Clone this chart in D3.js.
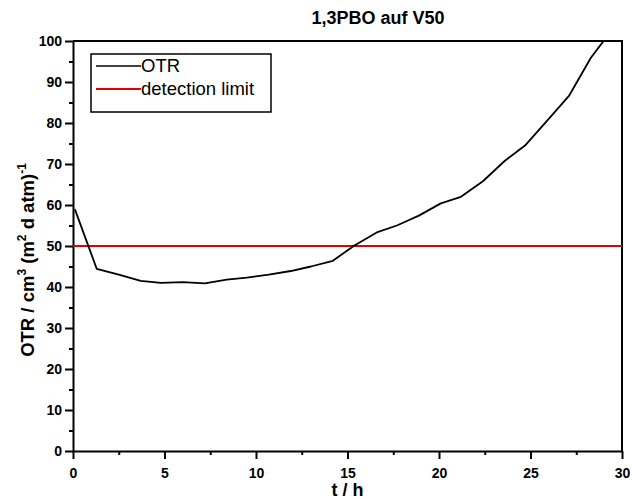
<!DOCTYPE html>
<html>
<head>
<meta charset="utf-8">
<script src="https://cdn.jsdelivr.net/npm/d3@7"></script>
<style>
  body { margin: 0; background: #fff; }
  svg { font-family: "Liberation Sans", Arial, sans-serif; }
</style>
</head>
<body>
<div id="chart"></div>
<script>
// OTR measurement (t in h, OTR in cm3/(m2 d atm))
const timeH = [0.1, 1.3, 2.5, 3.7, 4.8, 6.0, 7.2, 8.4, 9.5, 10.7, 11.9, 13.0, 14.2,
               15.4, 16.6, 17.7, 18.9, 20.1, 21.2, 22.4, 23.6, 24.7, 25.9, 27.1, 28.3, 29.4];
const otr = [59.0, 44.4, 43.0, 41.5, 41.0, 41.2, 40.9, 41.8, 42.3, 43.0, 43.9, 45.0, 46.4,
             50.2, 53.3, 55.0, 57.4, 60.4, 62.0, 65.8, 70.8, 74.5, 80.5, 86.6, 95.9, 102.4];
const detectionLimit = 50;
const xTicks = [0, 5, 10, 15, 20, 25, 30];
const yTicks = [0, 10, 20, 30, 40, 50, 60, 70, 80, 90, 100];
const legendLabels = ['OTR', 'detection limit'];

const W = 632, H = 499;
const margin = {left: 73, right: 10, top: 41, bottom: 48};
const width = W - margin.left - margin.right,
      height = H - margin.top - margin.bottom;

const x = d3.scaleLinear().domain([0, 30]).range([0, width]);
const y = d3.scaleLinear().domain([0, 100]).range([height, 0]);

const svg = d3.select('#chart').append('svg').attr('width', W).attr('height', H);
const g = svg.append('g').attr('transform', 'translate(' + margin.left + ',' + margin.top + ')');

g.append('clipPath').attr('id', 'clip')
    .append('rect').attr('width', width).attr('height', height);

// minor ticks
g.append('g').attr('class', 'minor').attr('transform', 'translate(0,' + height + ')')
    .call(d3.axisBottom(x).tickValues(d3.range(2.5, 30, 5)).tickSize(4).tickFormat(''));
g.append('g').attr('class', 'minor')
    .call(d3.axisLeft(y).tickValues(d3.range(5, 100, 10)).tickSize(4).tickFormat(''));
g.selectAll('.minor .domain').remove();

g.append('g').attr('class', 'x-axis')
    .attr('transform', 'translate(0,' + height + ')')
    .call(d3.axisBottom(x).tickValues(xTicks).tickSize(8).tickSizeOuter(0).tickPadding(9));
g.append('g').attr('class', 'y-axis')
    .call(d3.axisLeft(y).tickValues(yTicks).tickSize(8).tickSizeOuter(0).tickPadding(3));

g.selectAll('.domain, .tick line').attr('stroke', '#000').attr('stroke-width', 2);
g.selectAll('.tick text').attr('fill', '#000').style('font-size', '14px').style('font-weight', 'bold');

// top + right frame
g.append('path').attr('d', 'M0,0H' + width + 'V' + height)
    .attr('fill', 'none').attr('stroke', '#000').attr('stroke-width', 2);

// detection limit
g.append('line')
    .attr('x1', 0).attr('x2', width)
    .attr('y1', y(detectionLimit)).attr('y2', y(detectionLimit))
    .attr('stroke', '#e00000').attr('stroke-width', 2);

const line = d3.line().x((d, i) => x(timeH[i])).y((d) => y(d));
g.append('path').datum(otr)
    .attr('clip-path', 'url(#clip)')
    .attr('fill', 'none').attr('stroke', '#000').attr('stroke-width', 1.8)
    .attr('stroke-linejoin', 'round')
    .attr('d', line);

// legend
const legend = g.append('g').attr('transform', 'translate(18,13)');
legend.append('rect').attr('width', 180).attr('height', 58)
    .attr('fill', '#fff').attr('stroke', '#000').attr('stroke-width', 1.5);
const legColors = ['#000', '#e00000'];
legendLabels.forEach((lab, i) => {
    const ly = 12 + i * 23;
    legend.append('line').attr('x1', 5).attr('x2', 50).attr('y1', ly).attr('y2', ly)
        .attr('stroke', legColors[i]).attr('stroke-width', i ? 2 : 1.5);
    legend.append('text').attr('x', 50).attr('y', ly + 6)
        .style('font-size', '18.5px').text(lab);
});

// title and axis labels
svg.append('text').attr('x', 378).attr('y', 24).attr('text-anchor', 'middle')
    .style('font-size', '18px').style('font-weight', 'bold').text('1,3PBO auf V50');
svg.append('text').attr('x', margin.left + width / 2).attr('y', 496).attr('text-anchor', 'middle')
    .style('font-size', '18px').style('font-weight', 'bold').text('t / h');

const yl = svg.append('text').attr('transform', 'translate(34,260) rotate(-90)')
    .attr('text-anchor', 'middle')
    .style('font-size', '18.5px').style('font-weight', 'bold');
yl.append('tspan').text('OTR / cm');
yl.append('tspan').attr('dy', -8).style('font-size', '12px').text('3');
yl.append('tspan').attr('dy', 8).text(' (m');
yl.append('tspan').attr('dy', -8).style('font-size', '12px').text('2');
yl.append('tspan').attr('dy', 8).text(' d atm)');
yl.append('tspan').attr('dy', -8).style('font-size', '12px').text('-1');
</script>
</body>
</html>
